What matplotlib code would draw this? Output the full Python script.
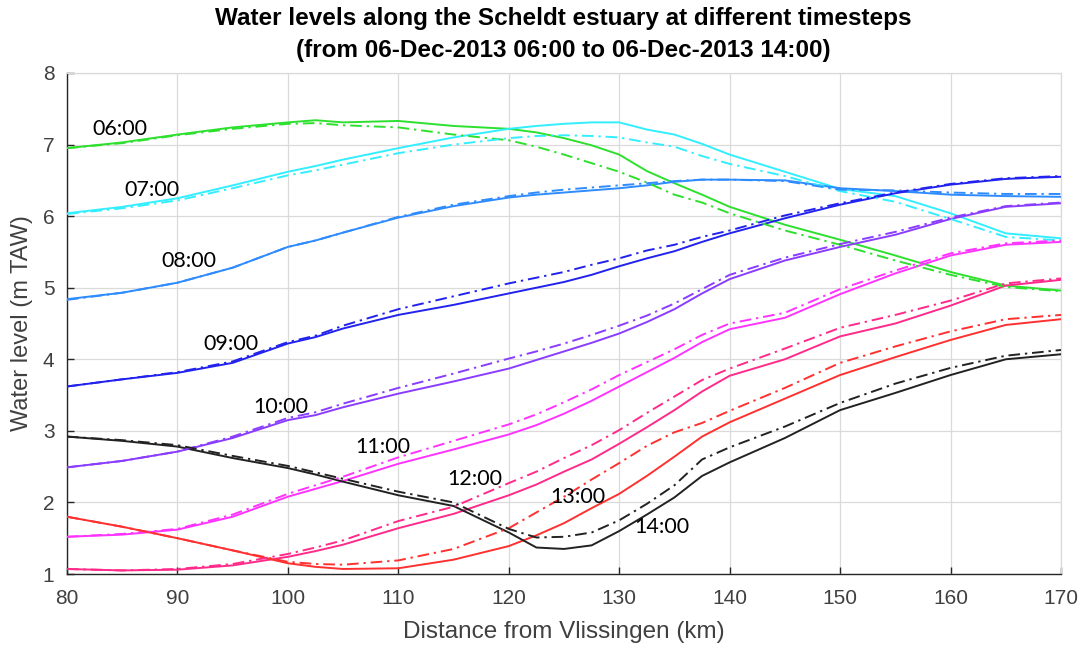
import matplotlib
matplotlib.use("Agg")
import matplotlib.pyplot as plt
from matplotlib import font_manager

# ---------------- data ----------------
x_km = [80, 85, 90, 95, 100, 102.5, 105, 110, 115, 120, 122.5, 125, 127.5,
        130, 132.5, 135, 137.5, 140, 145, 150, 155, 160, 165, 170]

times = ["06:00", "07:00", "08:00", "09:00", "10:00", "11:00", "12:00", "13:00", "14:00"]
colors = ["#2ee02e", "#33eeff", "#2f8cff", "#2222ee", "#8a3cff",
          "#ff33ff", "#ff2a8a", "#ff3030", "#222222"]

wl_0600_solid = [6.95, 7.03, 7.14, 7.24, 7.31, 7.34, 7.31, 7.33, 7.26, 7.22, 7.17, 7.09, 6.99,
                 6.86, 6.63, 6.46, 6.30, 6.13, 5.88, 5.67, 5.45, 5.22, 5.03, 4.96]
wl_0600_dash = [6.95, 7.02, 7.13, 7.22, 7.29, 7.30, 7.27, 7.24, 7.14, 7.06, 6.97, 6.86, 6.74,
                6.62, 6.47, 6.30, 6.19, 6.04, 5.80, 5.60, 5.38, 5.18, 5.01, 4.95]
wl_0700_solid = [6.04, 6.13, 6.25, 6.43, 6.62, 6.70, 6.79, 6.95, 7.10, 7.22, 7.26, 7.29, 7.31,
                 7.31, 7.21, 7.14, 7.01, 6.86, 6.62, 6.38, 6.28, 6.04, 5.76, 5.69]
wl_0700_dash = [6.03, 6.11, 6.22, 6.39, 6.57, 6.64, 6.72, 6.88, 7.00, 7.09, 7.12, 7.13, 7.12,
                7.10, 7.03, 6.97, 6.84, 6.73, 6.56, 6.35, 6.20, 5.96, 5.71, 5.66]
wl_0800_solid = [4.84, 4.93, 5.07, 5.28, 5.57, 5.66, 5.77, 5.98, 6.14, 6.26, 6.30, 6.33, 6.36,
                 6.39, 6.43, 6.48, 6.51, 6.51, 6.50, 6.39, 6.35, 6.30, 6.28, 6.27]
wl_0800_dash = [4.83, 4.93, 5.07, 5.28, 5.57, 5.66, 5.77, 5.99, 6.16, 6.28, 6.33, 6.37, 6.40,
                6.43, 6.46, 6.49, 6.51, 6.51, 6.49, 6.37, 6.36, 6.33, 6.31, 6.31]
wl_0900_solid = [3.62, 3.72, 3.81, 3.95, 4.22, 4.31, 4.43, 4.62, 4.76, 4.92, 5.00, 5.08, 5.18,
                 5.30, 5.41, 5.51, 5.64, 5.76, 5.97, 6.16, 6.32, 6.44, 6.52, 6.55]
wl_0900_dash = [3.62, 3.72, 3.82, 3.97, 4.24, 4.33, 4.47, 4.70, 4.88, 5.06, 5.14, 5.22, 5.32,
                5.41, 5.52, 5.60, 5.71, 5.80, 6.01, 6.18, 6.33, 6.45, 6.53, 6.56]
wl_1000_solid = [2.49, 2.58, 2.71, 2.90, 3.15, 3.22, 3.33, 3.52, 3.69, 3.87, 3.99, 4.11, 4.23,
                 4.36, 4.52, 4.70, 4.92, 5.12, 5.38, 5.57, 5.74, 5.96, 6.13, 6.18]
wl_1000_dash = [2.49, 2.58, 2.71, 2.92, 3.18, 3.26, 3.38, 3.60, 3.80, 4.01, 4.11, 4.22, 4.34,
                4.47, 4.61, 4.78, 4.98, 5.18, 5.42, 5.61, 5.78, 5.98, 6.14, 6.19]
wl_1100_solid = [1.52, 1.55, 1.62, 1.80, 2.08, 2.19, 2.30, 2.54, 2.74, 2.95, 3.08, 3.24, 3.42,
                 3.62, 3.82, 4.02, 4.24, 4.42, 4.58, 4.91, 5.20, 5.45, 5.60, 5.64]
wl_1100_dash = [1.52, 1.56, 1.63, 1.83, 2.12, 2.24, 2.36, 2.63, 2.86, 3.09, 3.23, 3.40, 3.58,
                3.78, 3.96, 4.14, 4.34, 4.50, 4.65, 4.98, 5.24, 5.48, 5.62, 5.66]
wl_1200_solid = [1.07, 1.05, 1.06, 1.12, 1.24, 1.32, 1.41, 1.64, 1.84, 2.10, 2.25, 2.43, 2.60,
                 2.82, 3.05, 3.29, 3.55, 3.77, 4.00, 4.32, 4.50, 4.75, 5.03, 5.11]
wl_1200_dash = [1.07, 1.05, 1.07, 1.14, 1.28, 1.37, 1.47, 1.74, 1.94, 2.27, 2.43, 2.62, 2.80,
                3.01, 3.25, 3.48, 3.71, 3.87, 4.15, 4.44, 4.62, 4.82, 5.06, 5.13]
wl_1300_solid = [1.80, 1.66, 1.50, 1.33, 1.15, 1.10, 1.07, 1.08, 1.20, 1.39, 1.54, 1.71, 1.92,
                 2.12, 2.37, 2.64, 2.92, 3.12, 3.45, 3.78, 4.03, 4.27, 4.48, 4.56]
wl_1300_dash = [1.80, 1.66, 1.50, 1.33, 1.17, 1.14, 1.13, 1.19, 1.35, 1.64, 1.86, 2.08, 2.32,
                2.55, 2.79, 2.98, 3.11, 3.28, 3.60, 3.95, 4.18, 4.39, 4.56, 4.62]
wl_1400_solid = [2.92, 2.86, 2.78, 2.62, 2.48, 2.39, 2.29, 2.10, 1.95, 1.58, 1.37, 1.35, 1.40,
                 1.60, 1.83, 2.07, 2.37, 2.56, 2.90, 3.29, 3.53, 3.78, 4.00, 4.07]
wl_1400_dash = [2.92, 2.87, 2.80, 2.65, 2.51, 2.42, 2.33, 2.15, 2.00, 1.63, 1.51, 1.52, 1.58,
                1.75, 1.98, 2.24, 2.60, 2.77, 3.06, 3.39, 3.66, 3.88, 4.05, 4.13]

solid_series = [wl_0600_solid, wl_0700_solid, wl_0800_solid, wl_0900_solid, wl_1000_solid,
                wl_1100_solid, wl_1200_solid, wl_1300_solid, wl_1400_solid]
dash_series = [wl_0600_dash, wl_0700_dash, wl_0800_dash, wl_0900_dash, wl_1000_dash,
               wl_1100_dash, wl_1200_dash, wl_1300_dash, wl_1400_dash]

label_x = [84.8, 87.65, 91.0, 94.85, 99.4, 108.6, 116.96, 126.3, 133.85]
label_y = [7.22, 6.37, 5.37, 4.22, 3.34, 2.78, 2.33, 2.08, 1.66]

x_ticks = [80, 90, 100, 110, 120, 130, 140, 150, 160, 170]
y_ticks = [1, 2, 3, 4, 5, 6, 7, 8]

title_line1 = "Water levels along the Scheldt estuary at different timesteps"
title_line2 = "(from 06-Dec-2013 06:00 to 06-Dec-2013 14:00)"
xlabel = "Distance from Vlissingen (km)"
ylabel = "Water level (m TAW)"

# ---------------- style ----------------
avail = {f.name for f in font_manager.fontManager.ttflist}
main_font = "Liberation Sans" if "Liberation Sans" in avail else "DejaVu Sans"
label_font = "Lato" if "Lato" in avail else main_font
plt.rcParams["font.family"] = [main_font, "DejaVu Sans"]

W, H = 1084, 646
fig = plt.figure(figsize=(W / 100, H / 100), dpi=100)
ax = fig.add_axes([67 / W, 1 - 574 / H, (1061 - 67) / W, (574 - 73) / H])

for ys, c in zip(solid_series, colors):
    ax.plot(x_km, ys, color=c, lw=1.4, ls="-", zorder=3)
for ys, c in zip(dash_series, colors):
    ax.plot(x_km, ys, color=c, lw=1.4, ls=(0, (6, 2.5, 1.2, 2.5)), zorder=3)

for t, lx, ly in zip(times, label_x, label_y):
    ax.text(lx, ly, t, ha="center", va="center", fontsize=15.5,
            family=[label_font, "DejaVu Sans"], color="black", zorder=4)

ax.set_xlim(80, 170)
ax.set_ylim(1, 8)
ax.set_xticks(x_ticks)
ax.set_yticks(y_ticks)
ax.grid(True, color="#dadada", lw=0.9, zorder=0)
ax.set_axisbelow(True)
for side in ("left", "bottom"):
    ax.spines[side].set_color("#262626")
    ax.spines[side].set_linewidth(1.0)
for side in ("top", "right"):
    ax.spines[side].set_color("#dadada")
    ax.spines[side].set_linewidth(0.9)
ax.tick_params(direction="in", length=5, width=1.0, colors="#262626",
               top=False, right=False, labelsize=15)
ax.tick_params(axis="x", pad=11)
ax.tick_params(axis="y", pad=9)
for lab in ax.get_xticklabels() + ax.get_yticklabels():
    lab.set_color("#404040")

fig.text(563 / W, 1 - 18 / H, title_line1, ha="center", va="center",
         fontsize=17.5, fontweight="bold", color="black")
fig.text(563 / W, 1 - 50 / H, title_line2, ha="center", va="center",
         fontsize=17.5, fontweight="bold", color="black")
fig.text(564 / W, 1 - 632 / H, xlabel, ha="center", va="center",
         fontsize=17.5, color="#404040")
fig.text(22 / W, 1 - 323 / H, ylabel, ha="center", va="center",
         rotation=90, fontsize=17, color="#404040")

fig.savefig("out.png", dpi=100)
